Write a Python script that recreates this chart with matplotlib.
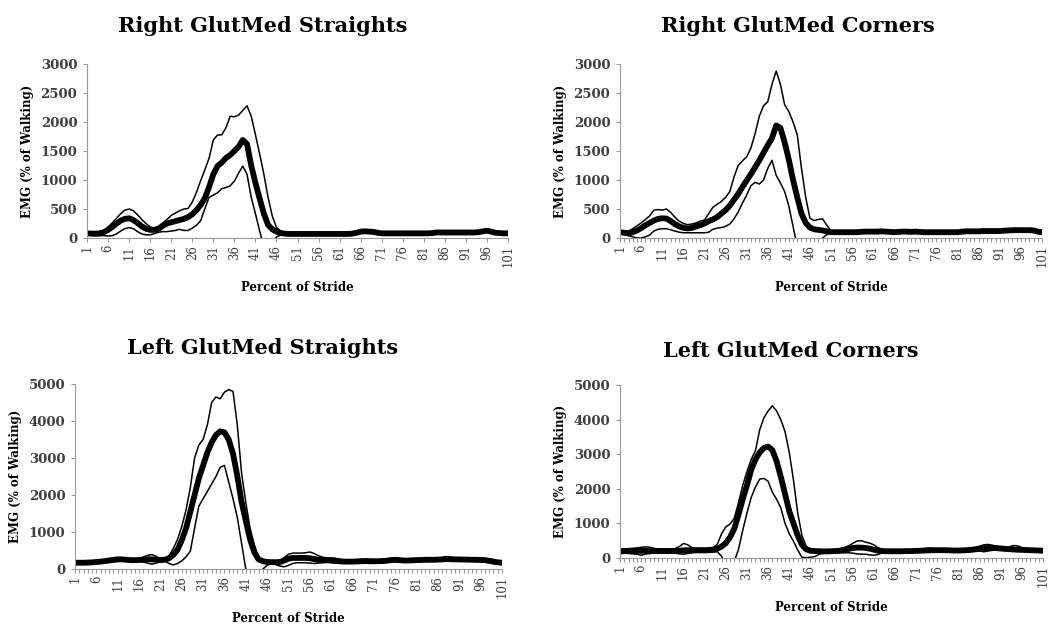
import matplotlib
matplotlib.use("Agg")
import matplotlib.pyplot as plt
import numpy as np

# percent of stride, 1..101
stride = list(range(1, 102))

# Right GlutMed Straights
rs_mean = [80, 75, 75, 80, 100, 140, 190, 250, 300, 330,
           340, 310, 260, 200, 160, 140, 140, 160, 210, 250,
           270, 290, 310, 330, 360, 410, 480, 570, 690, 880,
           1100, 1240, 1300, 1380, 1430, 1500, 1575, 1690, 1620, 1250,
           950, 680, 420, 225, 150, 110, 85, 75, 70, 70,
           70, 70, 70, 70, 70, 70, 70, 70, 70, 70,
           70, 70, 70, 75, 90, 110, 115, 110, 105, 90,
           80, 80, 80, 80, 80, 80, 80, 80, 80, 80,
           80, 80, 85, 95, 95, 95, 95, 95, 95, 95,
           95, 95, 95, 100, 115, 125, 110, 90, 85, 80, 80]
rs_upper = [100, 95, 90, 100, 130, 190, 260, 340, 420, 480,
            500, 470, 400, 320, 250, 190, 170, 200, 260, 320,
            390, 430, 470, 500, 510, 620, 790, 990, 1180, 1380,
            1690, 1775, 1780, 1900, 2100, 2090, 2120, 2200, 2280, 2100,
            1780, 1450, 1100, 700, 380, 180, 120, 90, 80, 80,
            80, 80, 80, 80, 80, 80, 80, 80, 80, 80,
            80, 80, 80, 85, 100, 125, 130, 125, 120, 100,
            90, 90, 90, 90, 90, 90, 90, 90, 90, 90,
            90, 90, 95, 105, 105, 105, 105, 105, 105, 105,
            105, 105, 105, 110, 125, 135, 120, 100, 95, 90, 90]
rs_lower = [50, 45, 40, 40, 40, 35, 40, 70, 120, 160,
            180, 160, 110, 70, 55, 55, 75, 100, 110, 110,
            120, 130, 150, 130, 130, 170, 220, 300, 510, 700,
            740, 780, 850, 870, 900, 980, 1120, 1240, 1100, 700,
            420, 120, -150, -250, -100, 20, 50, 60, 60, 60,
            60, 60, 60, 60, 60, 60, 60, 60, 60, 60,
            60, 60, 60, 65, 80, 95, 100, 95, 90, 80,
            70, 70, 70, 70, 70, 70, 70, 70, 70, 70,
            70, 70, 75, 85, 85, 85, 85, 85, 85, 85,
            85, 85, 85, 90, 105, 115, 100, 80, 75, 70, 70]

# Right GlutMed Corners
rc_mean = [100, 90, 80, 100, 130, 170, 220, 260, 300, 330,
           340, 335, 290, 240, 200, 175, 165, 175, 200, 220,
           250, 290, 320, 360, 420, 480, 560, 660, 760, 880,
           990, 1100, 1220, 1340, 1470, 1600, 1720, 1940, 1900, 1650,
           1350, 1000, 700, 420, 260, 180, 150, 140, 130, 115,
           100, 100, 100, 100, 100, 100, 100, 105, 110, 110,
           110, 110, 115, 110, 105, 100, 105, 110, 110, 105,
           110, 105, 100, 100, 100, 100, 100, 100, 100, 100,
           100, 110, 115, 115, 115, 115, 120, 120, 120, 120,
           120, 125, 130, 135, 135, 135, 135, 135, 130, 110, 100]
rc_upper = [110, 110, 120, 160, 210, 260, 320, 380, 480, 490,
            480, 500, 440, 360, 290, 250, 230, 240, 260, 290,
            310, 420, 530, 580, 630, 700, 800, 1050, 1250, 1330,
            1400, 1550, 1800, 2100, 2280, 2350, 2650, 2880, 2650, 2300,
            2180, 2000, 1780, 1200, 700, 340, 300, 320, 330, 220,
            120, 110, 110, 110, 110, 110, 110, 115, 120, 120,
            120, 120, 125, 120, 115, 110, 115, 120, 120, 115,
            120, 115, 110, 110, 110, 110, 110, 110, 110, 110,
            110, 120, 125, 125, 125, 125, 130, 130, 130, 130,
            130, 135, 140, 145, 145, 145, 145, 145, 140, 120, 110]
rc_lower = [80, 60, 40, 20, 0, 0, 20, 50, 120, 150,
            160, 160, 140, 120, 100, 90, 90, 90, 90, 90,
            90, 100, 150, 170, 180, 200, 240, 330, 450, 600,
            740, 900, 960, 930, 1000, 1200, 1340, 1080, 950, 800,
            550, 200, -150, -300, -400, -300, -200, -100, 0, 60,
            90, 90, 90, 90, 90, 90, 90, 95, 100, 100,
            100, 100, 105, 100, 95, 90, 95, 100, 100, 95,
            100, 95, 90, 90, 90, 90, 90, 90, 90, 90,
            90, 100, 105, 105, 105, 105, 110, 110, 110, 110,
            110, 115, 120, 125, 125, 125, 125, 125, 120, 100, 90]

# Left GlutMed Straights
ls_mean = [170, 170, 170, 175, 180, 190, 200, 215, 230, 250,
           260, 260, 250, 240, 240, 245, 255, 265, 260, 250,
           240, 250, 290, 380, 520, 780, 1100, 1550, 2000, 2450,
           2800, 3150, 3420, 3620, 3720, 3690, 3500, 3120, 2520, 1820,
           1300, 800, 450, 260, 210, 190, 185, 185, 190, 230,
           280, 300, 300, 300, 300, 290, 270, 250, 240, 240,
           235, 225, 210, 200, 200, 200, 205, 210, 215, 210,
           210, 210, 215, 225, 240, 250, 240, 230, 230, 235,
           240, 245, 250, 250, 250, 255, 260, 270, 265, 260,
           260, 255, 255, 250, 250, 245, 240, 220, 200, 180, 170]
ls_upper = [210, 210, 210, 215, 220, 230, 240, 250, 270, 300,
            310, 300, 280, 270, 270, 280, 320, 370, 390, 340,
            290, 280, 350, 550, 800, 1150, 1600, 2200, 3000, 3350,
            3500, 3900, 4500, 4650, 4600, 4780, 4850, 4800, 3900, 2600,
            1800, 1100, 650, 300, 220, 210, 210, 210, 230, 310,
            400, 430, 430, 430, 440, 460, 420, 360, 320, 300,
            300, 290, 260, 240, 240, 240, 250, 260, 265, 260,
            255, 255, 260, 275, 290, 300, 285, 270, 270, 275,
            280, 285, 290, 290, 290, 295, 310, 340, 320, 300,
            300, 300, 300, 295, 290, 290, 290, 270, 250, 220, 200]
ls_lower = [130, 130, 130, 135, 140, 150, 160, 175, 190, 200,
            210, 220, 220, 210, 210, 210, 190, 160, 130, 160,
            200, 220, 150, 110, 150, 220, 330, 480, 1100, 1700,
            1900, 2100, 2300, 2500, 2750, 2800, 2350, 1900, 1400, 700,
            0, -300, -500, -400, 0, 100, 150, 120, 80, 60,
            100, 150, 170, 170, 170, 160, 150, 160, 170, 180,
            170, 160, 160, 160, 160, 165, 170, 175, 180, 180,
            175, 175, 180, 185, 190, 200, 200, 190, 185, 190,
            195, 200, 205, 210, 210, 215, 220, 225, 225, 220,
            215, 215, 210, 210, 205, 205, 200, 170, 150, 140, 130]

# Left GlutMed Corners
lc_mean = [190, 195, 200, 200, 205, 205, 205, 200, 200, 200,
           200, 200, 200, 205, 210, 220, 225, 225, 225, 225,
           225, 230, 240, 270, 330, 430, 600, 850, 1250, 1700,
           2100, 2550, 2850, 3050, 3180, 3220, 3120, 2800, 2350, 1850,
           1350, 1000, 650, 380, 250, 210, 200, 195, 190, 190,
           195, 200, 210, 230, 260, 290, 300, 300, 290, 270,
           240, 210, 200, 195, 195, 195, 195, 195, 200, 200,
           205, 210, 215, 220, 225, 225, 225, 225, 220, 215,
           215, 220, 225, 235, 250, 265, 280, 290, 290, 285,
           275, 265, 255, 245, 240, 235, 230, 225, 220, 215, 210]
lc_upper = [250, 260, 270, 280, 290, 310, 320, 310, 280, 260,
            260, 260, 260, 270, 330, 420, 380, 300, 280, 275,
            275, 280, 300, 400, 700, 900, 980, 1150, 1600, 2100,
            2500, 2850, 3100, 3700, 4050, 4250, 4400, 4250, 4000, 3650,
            3050, 2250, 1300, 650, 340, 260, 240, 230, 230, 230,
            240, 250, 270, 300, 350, 420, 490, 500, 460, 430,
            380, 300, 250, 230, 225, 225, 225, 225, 230, 235,
            240, 250, 270, 290, 275, 260, 255, 260, 250, 240,
            240, 245, 255, 275, 300, 340, 380, 390, 370, 340,
            320, 300, 320, 360, 350, 300, 270, 250, 240, 230, 225]
lc_lower = [150, 140, 130, 120, 110, 80, 110, 130, 140, 150,
            150, 150, 150, 140, 120, 110, 130, 150, 160, 160,
            160, 160, 170, 180, 50, -200, -300, -100, 250, 800,
            1300, 1750, 2050, 2280, 2300, 2220, 1900, 1700, 1450, 1000,
            700, 480, 230, 20, 10, 20, 40, 100, 140, 160,
            160, 160, 155, 150, 150, 140, 120, 110, 110, 90,
            80, 100, 150, 165, 165, 170, 170, 170, 170, 170,
            175, 175, 180, 180, 185, 190, 190, 190, 190, 195,
            195, 200, 200, 210, 210, 200, 180, 200, 220, 230,
            220, 215, 210, 200, 190, 190, 190, 190, 190, 190, 190]

titles = ["Right GlutMed Straights", "Right GlutMed Corners",
          "Left GlutMed Straights", "Left GlutMed Corners"]
ymaxes = [3000, 3000, 5000, 5000]
ysteps = [500, 500, 1000, 1000]
tick_labels = [str(s) for s in stride[::5]]

serif = "DejaVu Serif"
grey = "#404040"

fig = plt.figure(figsize=(10.51, 6.24), dpi=100)

# axes boxes [left, bottom, width, height] and title positions
boxes = [[0.0828, 0.6186, 0.4006, 0.2788],
         [0.5900, 0.6186, 0.4014, 0.2788],
         [0.0714, 0.0881, 0.4062, 0.2965],
         [0.5900, 0.1058, 0.4024, 0.2772]]
title_xy = [(0.250, 0.958), (0.759, 0.958), (0.250, 0.443), (0.752, 0.438)]

series = [(rs_mean, rs_upper, rs_lower), (rc_mean, rc_upper, rc_lower),
          (ls_mean, ls_upper, ls_lower), (lc_mean, lc_upper, lc_lower)]

for k in range(4):
    ax = fig.add_axes(boxes[k])
    m, up, lo = series[k]
    ax.plot(stride, up, color="black", lw=1.1)
    ax.plot(stride, lo, color="black", lw=1.1)
    ax.plot(stride, m, color="black", lw=4.2, solid_capstyle="round", solid_joinstyle="round")
    ax.set_xlim(1, 101)
    ax.set_ylim(0, ymaxes[k])
    ax.set_yticks(np.arange(0, ymaxes[k] + 1, ysteps[k]))
    ax.set_xticks(stride[::5])
    ax.set_xticklabels(tick_labels, rotation=90, family=serif, fontsize=8.5, color=grey)
    if k != 0:
        ax.set_xticks(stride, minor=True)
        ax.tick_params(axis="x", which="minor", length=3, color="#999999", width=0.8)
    for lab in ax.get_yticklabels():
        lab.set_family(serif)
        lab.set_fontweight("bold")
        lab.set_fontsize(9.5)
        lab.set_color(grey)
    ax.tick_params(axis="both", which="major", length=3, color="#999999", width=0.8, pad=2)
    ax.tick_params(axis="y", pad=4)
    for s in ["top", "right"]:
        ax.spines[s].set_visible(False)
    for s in ["left", "bottom"]:
        ax.spines[s].set_color("#999999")
        ax.spines[s].set_linewidth(0.8)
    ax.set_ylabel("EMG (% of Walking)", family=serif, fontweight="bold", fontsize=8.5, labelpad=5)
    ax.set_xlabel("Percent of Stride", family=serif, fontweight="bold", fontsize=8.5, labelpad=10)
    fig.text(title_xy[k][0], title_xy[k][1], titles[k], family=serif, fontweight="bold",
             fontsize=15, ha="center", va="center")

fig.savefig("out.png", dpi=100)
